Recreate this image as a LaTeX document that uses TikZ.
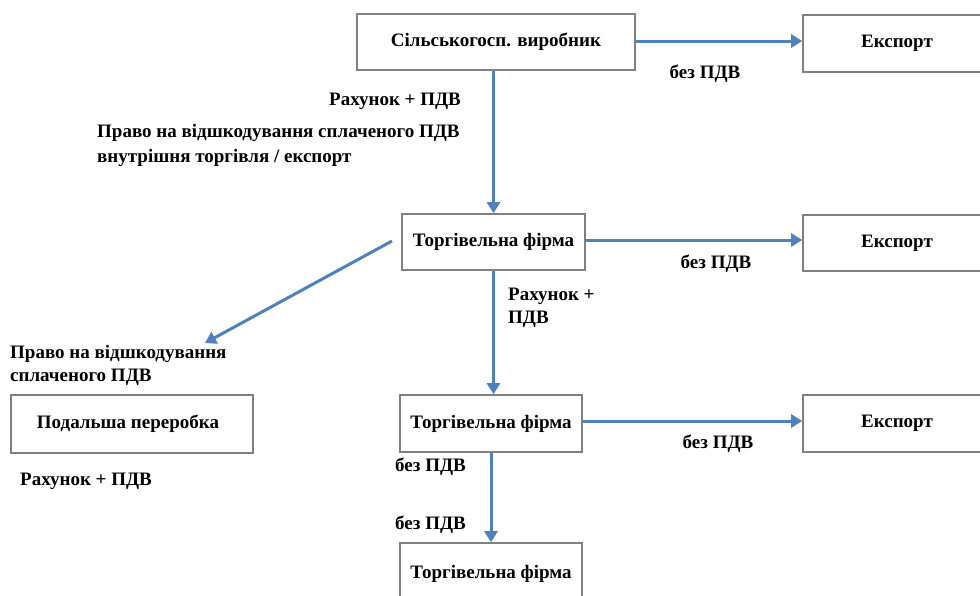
\documentclass[tikz,border=0pt]{standalone}
\usepackage{fontspec}
\setmainfont{Liberation Serif}
\usetikzlibrary{arrows.meta}
\definecolor{arrowblue}{HTML}{4F81BD}
\definecolor{boxgray}{HTML}{808080}
\begin{document}
\begin{tikzpicture}[x=1pt,y=-1pt,
  txt/.style={font=\bfseries\fontsize{19}{22}\selectfont},
  box/.style={draw=boxgray, line width=1.6pt, fill=white, inner sep=0pt, txt},
  lbl/.style={inner sep=0pt, txt},
  flow/.style={draw=arrowblue, line width=3pt, -{Triangle[length=11pt,width=13pt]}}]
\useasboundingbox[fill=white] (0,0) rectangle (980,595);
% boxes
\node[box, minimum width=278pt, minimum height=56pt] (src) at (496,42) {Сільськогосп. виробник};
\node[box, minimum width=188pt, minimum height=57pt] (exp1) at (897,43.5) {\raisebox{2pt}{Експорт}};
\node[box, minimum width=183pt, minimum height=56pt] (trade1) at (493.5,242) {Торгівельна фірма};
\node[box, minimum width=188pt, minimum height=56pt] (exp2) at (897,243) {\raisebox{-6pt}{Експорт}};
\node[box, minimum width=242pt, minimum height=58pt] (post) at (132,424) {\hspace*{-8pt}Подальша переробка};
\node[box, minimum width=182pt, minimum height=57pt] (trade2) at (491,423.5) {Торгівельна фірма};
\node[box, minimum width=188pt, minimum height=57pt] (exp3) at (897,423.5) {\raisebox{2pt}{Експорт}};
\node[box, minimum width=182pt, minimum height=66pt] (trade3) at (491,576) {\raisebox{9pt}{Торгівельна фірма}};
% connectors
\coordinate (diagStart) at (392,241);
\coordinate (diagEnd) at (205,343);
\draw[flow] (trade1.north |- src.south) -- (trade1.north);
\draw[flow] (src.east |- 0,41) -- (exp1.west |- 0,41);
\draw[flow] (trade1.east |- 0,240) -- (exp2.west |- 0,240);
\draw[flow] (diagStart) -- (diagEnd);
\draw[flow] (trade1.south) -- (trade2.north -| trade1.south);
\draw[flow] (trade2.east |- 0,421) -- (exp3.west |- 0,421);
\draw[flow] (trade2.south) -- (trade3.north);
% labels
\node[lbl] (l1) at (705,74) {без ПДВ};
\node[lbl, anchor=east] (l2) at (461,101) {Рахунок + ПДВ};
\node[lbl, anchor=west] (l3) at (97,133) {Право на відшкодування сплаченого ПДВ};
\node[lbl, anchor=west] (l4) at (97,158) {внутрішня торгівля / експорт};
\node[lbl] (l5) at (716,264) {без ПДВ};
\node[lbl, anchor=west] (l6) at (508,296) {Рахунок +};
\node[lbl, anchor=west] (l7) at (508,319) {ПДВ};
\node[lbl, anchor=west] (l8) at (10,354) {Право на відшкодування};
\node[lbl, anchor=west] (l9) at (10,377) {сплаченого ПДВ};
\node[lbl, anchor=west] (l10) at (20,481) {Рахунок + ПДВ};
\node[lbl] (l11) at (718,444) {без ПДВ};
\node[lbl, anchor=west] (l12) at (395,467) {без ПДВ};
\node[lbl, anchor=west] (l13) at (395,525) {без ПДВ};
\end{tikzpicture}
\end{document}
